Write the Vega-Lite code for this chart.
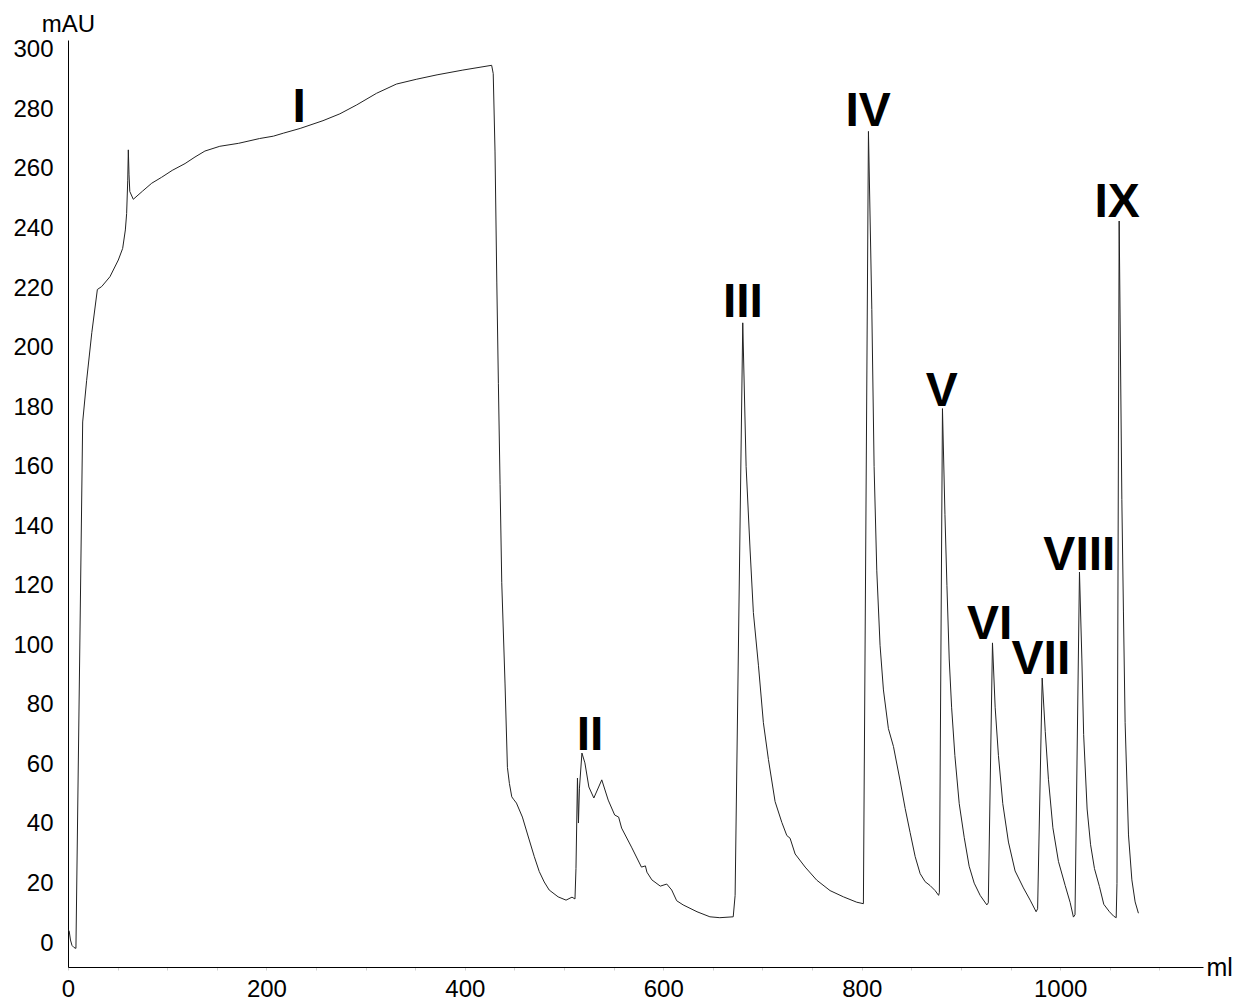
{
  "$schema": "https://vega.github.io/schema/vega-lite/v6.json",
  "autosize": {"type": "none"},
  "width": 1135,
  "height": 927,
  "padding": {"left": 68, "top": 40, "right": 34, "bottom": 33},
  "background": "white",
  "config": {"view": {"stroke": null}},
  "datasets": {
    "trace": [
      {"ml":0,"mAU":4.5},{"ml":1.2,"mAU":4},{"ml":2.5,"mAU":1},{"ml":4,"mAU":-0.8},{"ml":6,"mAU":-1.5},{"ml":8,"mAU":-1.8},
      {"ml":14.8,"mAU":175},{"ml":18.8,"mAU":189},{"ml":24,"mAU":205},{"ml":29.6,"mAU":219.5},{"ml":34,"mAU":220.5},
      {"ml":42.3,"mAU":223.8},{"ml":50.7,"mAU":229.4},{"ml":55.1,"mAU":233.3},{"ml":57.8,"mAU":239.5},{"ml":59.1,"mAU":245},
      {"ml":60.2,"mAU":256},{"ml":60.8,"mAU":266.4},{"ml":61.5,"mAU":258},{"ml":62.3,"mAU":252.4},{"ml":65.8,"mAU":249.8},
      {"ml":75,"mAU":252.5},{"ml":84.4,"mAU":255.2},{"ml":94.4,"mAU":257.2},{"ml":105,"mAU":259.5},{"ml":118,"mAU":261.8},
      {"ml":128,"mAU":264},{"ml":138,"mAU":266},{"ml":153,"mAU":267.6},{"ml":172,"mAU":268.6},{"ml":193,"mAU":270.2},
      {"ml":207,"mAU":271},{"ml":217,"mAU":272},{"ml":234,"mAU":273.6},{"ml":257,"mAU":276.2},{"ml":274,"mAU":278.5},
      {"ml":291,"mAU":281.5},{"ml":311,"mAU":285.4},{"ml":331,"mAU":288.5},{"ml":351,"mAU":290.1},{"ml":372,"mAU":291.6},
      {"ml":398,"mAU":293.2},{"ml":427,"mAU":294.8},{"ml":428.6,"mAU":292},{"ml":430.4,"mAU":266},{"ml":432.2,"mAU":222},
      {"ml":433.8,"mAU":188},{"ml":435.5,"mAU":154},{"ml":437.2,"mAU":121},{"ml":440.5,"mAU":87},{"ml":442.9,"mAU":59},
      {"ml":444.9,"mAU":53.6},{"ml":447.3,"mAU":49.1},{"ml":449,"mAU":48.3},{"ml":452,"mAU":47},{"ml":458,"mAU":42.3},
      {"ml":464,"mAU":35.6},{"ml":470,"mAU":29},{"ml":475,"mAU":24},{"ml":480,"mAU":20.5},{"ml":485,"mAU":17.8},
      {"ml":494,"mAU":15.5},{"ml":502,"mAU":14.4},{"ml":508,"mAU":15.4},{"ml":511,"mAU":14.8},{"ml":512,"mAU":25},
      {"ml":513.5,"mAU":55.4},{"ml":514.5,"mAU":40.3},{"ml":515.5,"mAU":52},{"ml":518,"mAU":63.8},{"ml":521,"mAU":60.5},
      {"ml":525,"mAU":52.4},{"ml":530,"mAU":48.7},{"ml":538,"mAU":54.8},{"ml":544.5,"mAU":48},{"ml":551,"mAU":43},
      {"ml":555,"mAU":42.3},{"ml":558,"mAU":38.6},{"ml":568,"mAU":32.2},{"ml":578,"mAU":25.5},{"ml":582,"mAU":25.9},
      {"ml":583.5,"mAU":23.8},{"ml":588.5,"mAU":21.2},{"ml":597,"mAU":19.1},{"ml":603.5,"mAU":19.8},{"ml":608.5,"mAU":17.8},
      {"ml":613.5,"mAU":14.2},{"ml":620,"mAU":12.8},{"ml":634,"mAU":10.5},{"ml":647,"mAU":8.8},{"ml":657,"mAU":8.5},
      {"ml":670.5,"mAU":8.8},{"ml":672.4,"mAU":16},{"ml":680.1,"mAU":208.3},{"ml":683.5,"mAU":160},{"ml":687.5,"mAU":132},
      {"ml":690.8,"mAU":111},{"ml":695.9,"mAU":93.3},{"ml":700.9,"mAU":74},{"ml":706,"mAU":61.6},{"ml":712.7,"mAU":47.5},
      {"ml":719.5,"mAU":40.5},{"ml":724.5,"mAU":36.1},{"ml":727.8,"mAU":35.2},{"ml":732.9,"mAU":29.9},{"ml":743,"mAU":25.5},
      {"ml":754.7,"mAU":21.1},{"ml":768.1,"mAU":17.6},{"ml":781.6,"mAU":15.5},{"ml":795,"mAU":13.7},{"ml":801.7,"mAU":13.2},
      {"ml":806.8,"mAU":272.6},{"ml":810.2,"mAU":212.8},{"ml":812.5,"mAU":160},{"ml":815.2,"mAU":125},{"ml":818.5,"mAU":100},
      {"ml":821.9,"mAU":85},{"ml":826.9,"mAU":72},{"ml":832,"mAU":66},{"ml":838.7,"mAU":54.5},{"ml":843.8,"mAU":45.2},
      {"ml":848.8,"mAU":37.1},{"ml":853.9,"mAU":29},{"ml":858.9,"mAU":23.3},{"ml":863.9,"mAU":20.6},{"ml":868.9,"mAU":19.3},
      {"ml":874,"mAU":17.6},{"ml":877.5,"mAU":16},{"ml":878.3,"mAU":17},{"ml":881.4,"mAU":179.5},{"ml":883.9,"mAU":144},
      {"ml":885.9,"mAU":120},{"ml":888.2,"mAU":95.4},{"ml":890.6,"mAU":79.2},{"ml":893.9,"mAU":63},{"ml":898.3,"mAU":46.8},
      {"ml":903.3,"mAU":35.5},{"ml":908.3,"mAU":25.8},{"ml":913.4,"mAU":20.1},{"ml":919.4,"mAU":16},{"ml":926.1,"mAU":12.8},
      {"ml":927.6,"mAU":13.5},{"ml":931.8,"mAU":100.8},{"ml":934.5,"mAU":79.2},{"ml":937.8,"mAU":63},{"ml":942.2,"mAU":46.8},
      {"ml":947.9,"mAU":33.9},{"ml":954.6,"mAU":24.2},{"ml":963,"mAU":18.5},{"ml":969.8,"mAU":14.4},{"ml":975.8,"mAU":10.5},
      {"ml":977.3,"mAU":11.5},{"ml":981.9,"mAU":89},{"ml":985,"mAU":71},{"ml":988.2,"mAU":55},{"ml":992.7,"mAU":38.7},
      {"ml":998.3,"mAU":27.4},{"ml":1005.1,"mAU":19.3},{"ml":1010.1,"mAU":13.6},{"ml":1013.4,"mAU":8.7},{"ml":1015,"mAU":9.5},
      {"ml":1019.5,"mAU":124.6},{"ml":1021.9,"mAU":95.4},{"ml":1023.7,"mAU":70},{"ml":1027.2,"mAU":45},{"ml":1030.7,"mAU":33},
      {"ml":1034.6,"mAU":25},{"ml":1039.6,"mAU":19},{"ml":1044,"mAU":13},{"ml":1049.7,"mAU":10.5},{"ml":1054,"mAU":9},
      {"ml":1056.5,"mAU":8.5},{"ml":1057.3,"mAU":20},{"ml":1059.5,"mAU":242.5},{"ml":1062.2,"mAU":149},{"ml":1063.8,"mAU":111.5},
      {"ml":1065.5,"mAU":74},{"ml":1068.9,"mAU":36.3},{"ml":1072.3,"mAU":21.2},{"ml":1075.6,"mAU":13.8},{"ml":1078.9,"mAU":10}
    ],
    "peaks": [
      {"ml":233,"mAU":275.9,"label":"I"},
      {"ml":526.2,"mAU":64.8,"label":"II"},
      {"ml":680.3,"mAU":210.2,"label":"III"},
      {"ml":806.5,"mAU":274.4,"label":"IV"},
      {"ml":880.7,"mAU":180.3,"label":"V"},
      {"ml":929,"mAU":102,"label":"VI"},
      {"ml":980.6,"mAU":90.2,"label":"VII"},
      {"ml":1019.4,"mAU":125.3,"label":"VIII"},
      {"ml":1057.5,"mAU":243.9,"label":"IX"}
    ]
  },
  "layer": [
    {
      "data": {"name": "trace"},
      "mark": {"type": "line", "color": "#222222", "strokeWidth": 1, "clip": true},
      "encoding": {
        "x": {
          "field": "ml", "type": "quantitative",
          "scale": {"domain": [0, 1144], "nice": false, "zero": false},
          "axis": {
            "values": [0,50,100,150,200,250,300,350,400,450,500,550,600,650,700,750,800,850,900,950,1000,1050,1100],
            "format": "d",
            "labelExpr": "datum.value % 200 === 0 ? datum.label : ''",
            "grid": false,
            "domainColor": "#000000", "domainWidth": 1,
            "ticks": true, "tickColor": "#d0d0d0", "tickSize": 3,
            "labelFont": "Liberation Sans", "labelFontSize": 24, "labelColor": "#000000",
            "labelPadding": 7, "labelFlush": false,
            "title": "ml", "titleFont": "Liberation Sans", "titleFontSize": 25, "titleFontWeight": "normal",
            "titleColor": "#000000", "titleX": 1138, "titleY": 0, "titleAlign": "left", "titleBaseline": "middle", "titleAngle": 0
          }
        },
        "y": {
          "field": "mAU", "type": "quantitative",
          "scale": {"domain": [-8.06, 303.3], "nice": false, "zero": false},
          "axis": {
            "values": [0,20,40,60,80,100,120,140,160,180,200,220,240,260,280,300],
            "grid": false,
            "domainColor": "#000000", "domainWidth": 1,
            "ticks": false,
            "labelFont": "Liberation Sans", "labelFontSize": 24, "labelColor": "#000000",
            "labelPadding": 15,
            "title": "mAU", "titleFont": "Liberation Sans", "titleFontSize": 24, "titleFontWeight": "normal",
            "titleColor": "#000000", "titleAngle": 0, "titleX": 0, "titleY": -9, "titleAlign": "center", "titleBaseline": "alphabetic"
          }
        }
      }
    },
    {
      "data": {"name": "peaks"},
      "mark": {"type": "text", "font": "Liberation Sans", "fontWeight": "bold", "fontSize": 48, "color": "#000000", "align": "center", "baseline": "alphabetic"},
      "encoding": {
        "x": {"field": "ml", "type": "quantitative"},
        "y": {"field": "mAU", "type": "quantitative"},
        "text": {"field": "label"}
      }
    }
  ]
}
